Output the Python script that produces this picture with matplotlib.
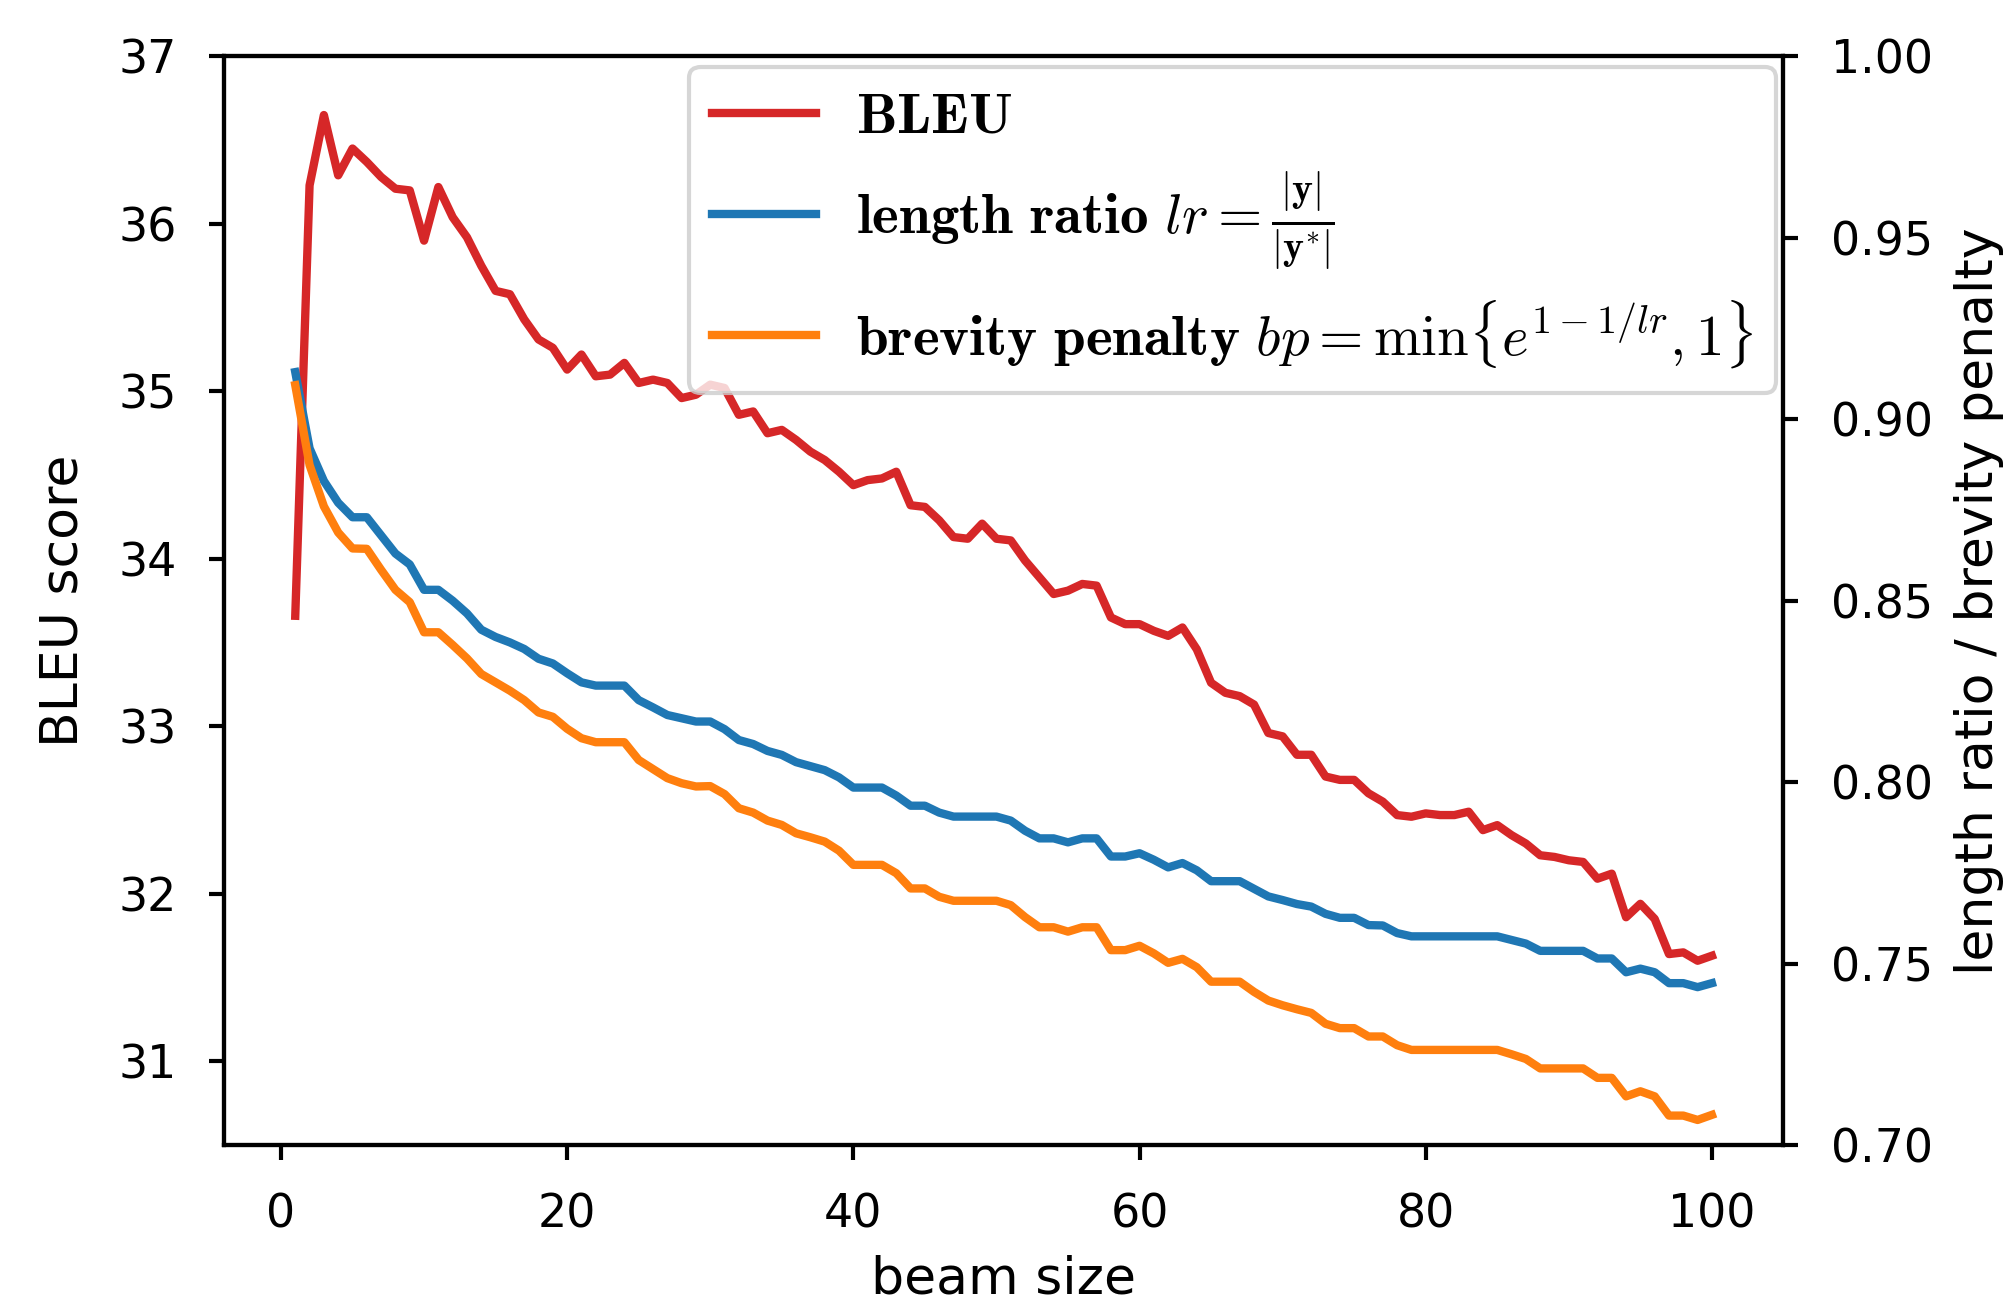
import numpy as np
import matplotlib
matplotlib.use("Agg")
import matplotlib.pyplot as plt

plt.rcParams['font.family'] = ['DejaVu Sans']
plt.rcParams['mathtext.fontset'] = 'cm'

# beam sizes 1..100
beam = np.arange(1, 101)

bleu = [33.66, 36.23, 36.65, 36.29, 36.45, 36.37, 36.28, 36.21, 36.20, 35.90,
        36.22, 36.04, 35.92, 35.75, 35.60, 35.58, 35.43, 35.31, 35.26, 35.13,
        35.22, 35.09, 35.10, 35.17, 35.05, 35.07, 35.05, 34.96, 34.98, 35.04,
        35.02, 34.86, 34.88, 34.75, 34.77, 34.71, 34.64, 34.59, 34.52, 34.44,
        34.47, 34.48, 34.52, 34.32, 34.31, 34.23, 34.13, 34.12, 34.21, 34.12,
        34.11, 33.99, 33.89, 33.79, 33.81, 33.85, 33.84, 33.65, 33.61, 33.61,
        33.57, 33.54, 33.59, 33.46, 33.26, 33.20, 33.18, 33.13, 32.96, 32.94,
        32.83, 32.83, 32.70, 32.68, 32.68, 32.60, 32.55, 32.47, 32.46, 32.48,
        32.47, 32.47, 32.49, 32.38, 32.41, 32.35, 32.30, 32.23, 32.22, 32.20,
        32.19, 32.09, 32.12, 31.86, 31.94, 31.85, 31.64, 31.65, 31.60, 31.63]

length_ratio = [0.9130, 0.8920, 0.8830, 0.8770, 0.8730, 0.8730, 0.8680, 0.8630, 0.8600, 0.8530,
                0.8530, 0.8500, 0.8465, 0.8420, 0.8400, 0.8385, 0.8367, 0.8340, 0.8327, 0.8300,
                0.8275, 0.8266, 0.8266, 0.8266, 0.8226, 0.8206, 0.8185, 0.8176, 0.8167, 0.8167,
                0.8146, 0.8116, 0.8105, 0.8086, 0.8075, 0.8055, 0.8044, 0.8033, 0.8013, 0.7985,
                0.7985, 0.7985, 0.7963, 0.7935, 0.7935, 0.7916, 0.7905, 0.7905, 0.7905, 0.7905,
                0.7894, 0.7866, 0.7845, 0.7845, 0.7834, 0.7845, 0.7845, 0.7795, 0.7795, 0.7804,
                0.7786, 0.7765, 0.7777, 0.7757, 0.7727, 0.7727, 0.7727, 0.7706, 0.7685, 0.7675,
                0.7664, 0.7657, 0.7637, 0.7626, 0.7626, 0.7606, 0.7605, 0.7584, 0.7575, 0.7575,
                0.7575, 0.7575, 0.7575, 0.7575, 0.7575, 0.7565, 0.7555, 0.7535, 0.7535, 0.7535,
                0.7535, 0.7514, 0.7514, 0.7476, 0.7486, 0.7476, 0.7446, 0.7446, 0.7435, 0.7446]

brevity_penalty = [0.9094, 0.8874, 0.8760, 0.8688, 0.8644, 0.8643, 0.8585, 0.8530, 0.8496, 0.8413,
                   0.8413, 0.8378, 0.8341, 0.8298, 0.8275, 0.8252, 0.8226, 0.8192, 0.8180, 0.8147,
                   0.8121, 0.8110, 0.8110, 0.8110, 0.8061, 0.8036, 0.8011, 0.7997, 0.7988, 0.7989,
                   0.7967, 0.7928, 0.7916, 0.7894, 0.7882, 0.7859, 0.7848, 0.7836, 0.7811, 0.7772,
                   0.7772, 0.7772, 0.7749, 0.7707, 0.7707, 0.7684, 0.7673, 0.7673, 0.7673, 0.7673,
                   0.7661, 0.7628, 0.7600, 0.7600, 0.7588, 0.7600, 0.7600, 0.7537, 0.7537, 0.7549,
                   0.7528, 0.7502, 0.7513, 0.7490, 0.7450, 0.7450, 0.7450, 0.7422, 0.7398, 0.7385,
                   0.7374, 0.7364, 0.7334, 0.7322, 0.7322, 0.7299, 0.7299, 0.7275, 0.7262, 0.7262,
                   0.7262, 0.7262, 0.7262, 0.7262, 0.7262, 0.7250, 0.7237, 0.7211, 0.7211, 0.7211,
                   0.7211, 0.7185, 0.7185, 0.7134, 0.7148, 0.7134, 0.7081, 0.7081, 0.7069, 0.7083]

red, blue, orange = '#d62728', '#1f77b4', '#ff7f0e'
lw = 2.0

fig = plt.figure(figsize=(2011 / 300, 1309 / 300), dpi=300)
ax = fig.add_axes([0.1116, 0.1253, 0.8865 - 0.1116, 0.9569 - 0.1253])
ax2 = ax.twinx()

l1, = ax.plot(beam, bleu, color=red, lw=lw,
              label=r'$\mathbf{BLEU}$')
l2, = ax2.plot(beam, length_ratio, color=blue, lw=lw,
               label=r'$\mathbf{length\ ratio}\ lr = \frac{|\mathbf{y}|}{|\mathbf{y}^{*}|}$')
l3, = ax2.plot(beam, brevity_penalty, color=orange, lw=lw,
               label=r'$\mathbf{brevity\ penalty}\ bp = \min\{e^{1-1/lr}, 1\}$')

ax.set_ylim(30.5, 37)
ax2.set_ylim(0.70, 1.00)
ax.set_yticks([31, 32, 33, 34, 35, 36, 37])
ax2.set_yticks([0.70, 0.75, 0.80, 0.85, 0.90, 0.95, 1.00])
ax.set_xticks([0, 20, 40, 60, 80, 100])

for a in (ax, ax2):
    for s in a.spines.values():
        s.set_linewidth(1.0)
    a.tick_params(labelsize=11, width=1.0, length=3.5, pad=8)

ax.set_xlabel('beam size', fontsize=12.5, labelpad=4)
ax.set_ylabel('BLEU score', fontsize=12.5, labelpad=7)
ax2.set_ylabel('length ratio / brevity penalty', fontsize=12.5, labelpad=5)

ax2.legend(handles=[l1, l2, l3], loc='upper right',
           bbox_to_anchor=(0.9957, 0.9905), borderaxespad=0,
           fontsize=13.7, labelspacing=0.45, handlelength=1.82,
           handletextpad=0.7)

fig.savefig('out.png', dpi=300)
